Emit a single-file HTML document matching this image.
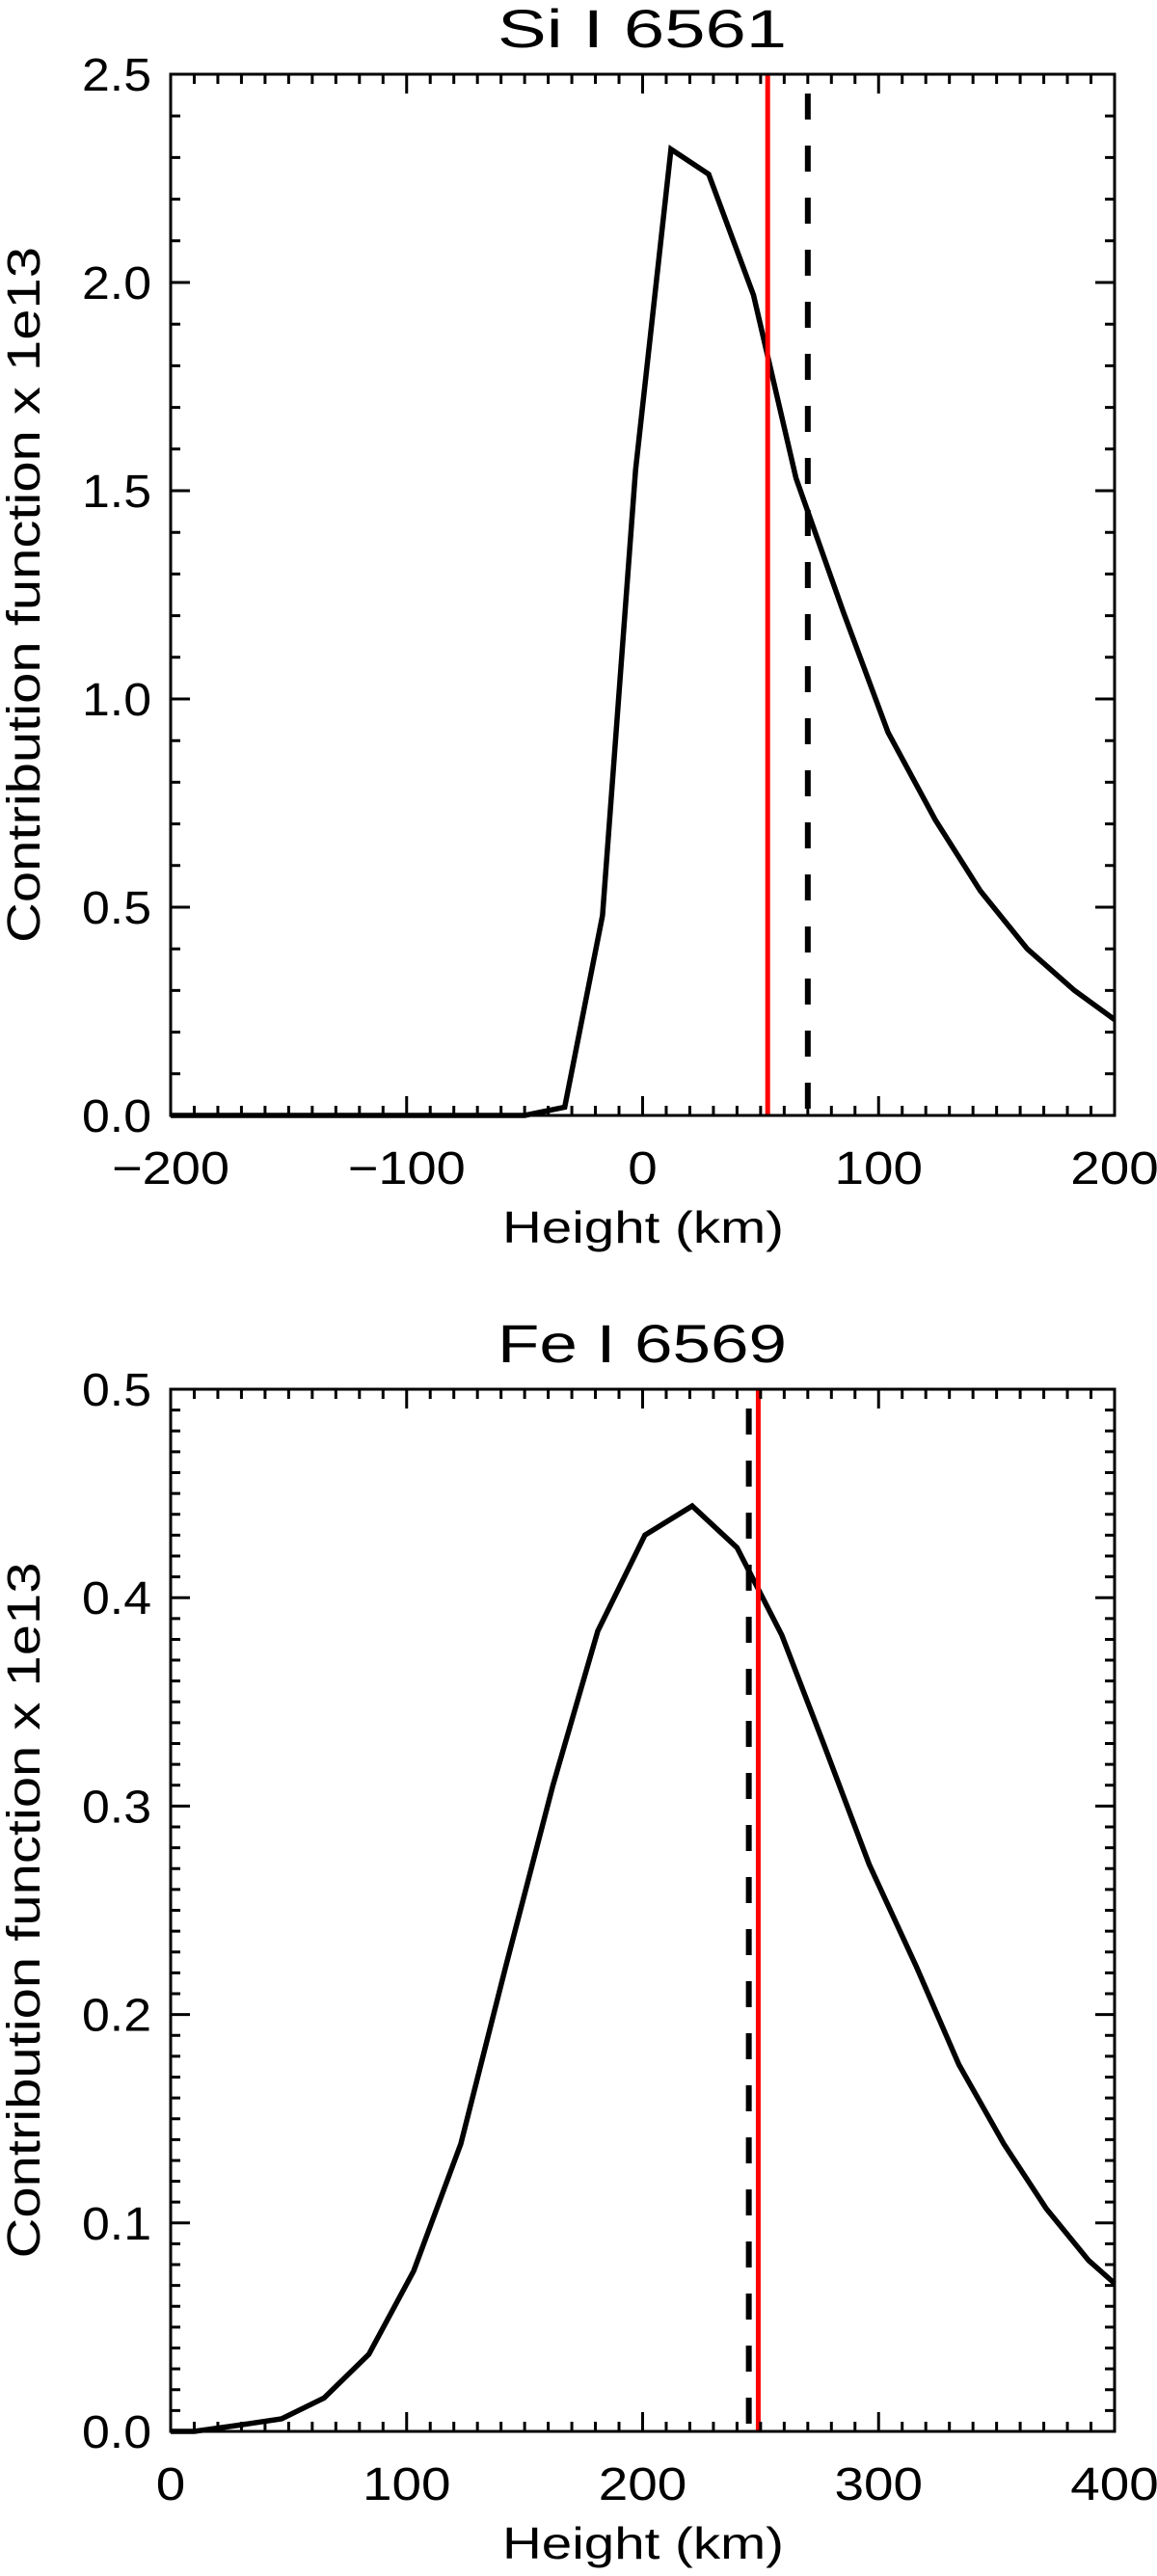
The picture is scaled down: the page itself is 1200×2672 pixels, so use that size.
<!DOCTYPE html>
<html><head><meta charset="utf-8"><style>
html,body{margin:0;padding:0;background:#fff;}
svg{display:block;}
text{font-family:"Liberation Sans","DejaVu Sans",sans-serif;fill:#000;font-weight:300;}
</style></head><body>
<svg id="fig" width="1200" height="2672" viewBox="0 0 1200 2672" xmlns="http://www.w3.org/2000/svg"></svg>
<script>
// ---- Panel 1: Si I 6561 ----
const siHeights = [-200,-50,-33,-17,-3,12,28,47,65,85,104,124,143,163,183,200];
const siValues  = [0,0,0.02,0.48,1.55,2.32,2.26,1.97,1.53,1.21,0.92,0.71,0.54,0.40,0.30,0.23];
const siRedLine = 53;
const siDashLine = 70;
const siXTicks = [-200,-100,0,100,200];
const siYTicks = [0.0,0.5,1.0,1.5,2.0,2.5];
// ---- Panel 2: Fe I 6569 ----
const feHeights = [0,10,29,47,65,84,103,123,142,162,181,201,221,240,259,277,296,316,334,353,371,389,400];
const feValues  = [0,0,0.003,0.006,0.016,0.037,0.077,0.138,0.223,0.310,0.384,0.430,0.444,0.424,0.382,0.329,0.272,0.223,0.176,0.138,0.107,0.082,0.071];
const feRedLine = 249;
const feDashLine = 245;
const feXTicks = [0,100,200,300,400];
const feYTicks = [0.0,0.1,0.2,0.3,0.4,0.5];

const NS='http://www.w3.org/2000/svg';
const svg=document.getElementById('fig');
function mk(tag,attrs,parent){const e=document.createElementNS(NS,tag);for(const k in attrs)e.setAttribute(k,attrs[k]);(parent||svg).appendChild(e);return e;}

function panel(cfg){
  const g=mk('g',{});
  
  
  const L=177,R=1156,T=cfg.top,B=cfg.bottom;
  const sx=v=>L+(v-cfg.xmin)/(cfg.xmax-cfg.xmin)*(R-L);
  const sy=v=>B-(v-cfg.ymin)/(cfg.ymax-cfg.ymin)*(B-T);
  const d=cfg.xs.map((x,i)=>(i?'L':'M')+sx(x).toFixed(1)+','+sy(cfg.ys[i]).toFixed(1)).join(' ');
  const c=mk('path',{d:d,fill:'none',stroke:'#000','stroke-width':5.5,'stroke-linejoin':'miter'},g);
  
  
  const r=mk('line',{x1:sx(cfg.red),x2:sx(cfg.red),y1:T,y2:B,stroke:'#ff0000','stroke-width':5},g);
  
  
  const dl=mk('line',{x1:sx(cfg.dash),x2:sx(cfg.dash),y1:T+20,y2:B,stroke:'#000','stroke-width':6,'stroke-dasharray':'27 27'},g);
  
  
  const f=mk('rect',{x:L,y:T,width:R-L,height:B-T,fill:'none',stroke:'#000','stroke-width':3},g);
  
  
  let tp='';
  for(let v=cfg.xmin;v<=cfg.xmax+1e-9;v+=cfg.xminor){
    const major=Math.abs(((v-cfg.xmin)/cfg.xmajor)-Math.round((v-cfg.xmin)/cfg.xmajor))<1e-6;
    const len=major?20:10,x=sx(v);
    tp+=`M${x},${B}V${B-len}M${x},${T}V${T+len}`;
  }
  for(let k=0;k<=Math.round((cfg.ymax-cfg.ymin)/cfg.yminor);k++){
    const v=cfg.ymin+k*cfg.yminor;
    const major=k%Math.round(cfg.ymajor/cfg.yminor)===0;
    const len=major?20:10,y=sy(v);
    tp+=`M${L},${y}H${L+len}M${R},${y}H${R-len}`;
  }
  const tk=mk('path',{d:tp,stroke:'#000','stroke-width':3,fill:'none'},g);
  
  
  cfg.xticks.forEach(v=>{
    const s=(v<0?'\u2212':'')+Math.abs(v);
    const t=mk('text',{x:sx(v),y:B+71,'font-size':48,'text-anchor':'middle',textLength:s.length*30.5,lengthAdjust:'spacingAndGlyphs'},g);
    
    
    t.textContent=s;
  });
  cfg.yticks.forEach(v=>{
    const t=mk('text',{x:157,y:sy(v)+17,'font-size':48,'text-anchor':'end',textLength:72,lengthAdjust:'spacingAndGlyphs'},g);
    
    
    t.textContent=v.toFixed(1);
  });
  const xt=mk('text',{x:667,y:B+132,'font-size':46,'text-anchor':'middle',textLength:292,lengthAdjust:'spacingAndGlyphs'},g);
  
  
  xt.textContent='Height (km)';
  const cy=(T+B)/2;
  const yt=mk('text',{x:0,y:0,'font-size':48,'text-anchor':'middle',textLength:722,lengthAdjust:'spacingAndGlyphs',transform:`translate(41,${cy}) rotate(-90)`},g);
  
  
  yt.textContent='Contribution function x 1e13';
  const ti=mk('text',{x:666,y:T-28,'font-size':56,'text-anchor':'middle',textLength:300,lengthAdjust:'spacingAndGlyphs'},g);
  
  
  ti.textContent=cfg.title;
}
panel({name:'si-panel',title:'Si I 6561',top:77,bottom:1157,xmin:-200,xmax:200,ymin:0,ymax:2.5,xmajor:100,xminor:10,ymajor:0.5,yminor:0.1,
  xs:siHeights,ys:siValues,red:siRedLine,dash:siDashLine,xticks:siXTicks,yticks:siYTicks});
panel({name:'fe-panel',title:'Fe I 6569',top:1441,bottom:2522,xmin:0,xmax:400,ymin:0,ymax:0.5,xmajor:100,xminor:10,ymajor:0.1,yminor:0.01,
  xs:feHeights,ys:feValues,red:feRedLine,dash:feDashLine,xticks:feXTicks,yticks:feYTicks});
</script>
</body></html>
